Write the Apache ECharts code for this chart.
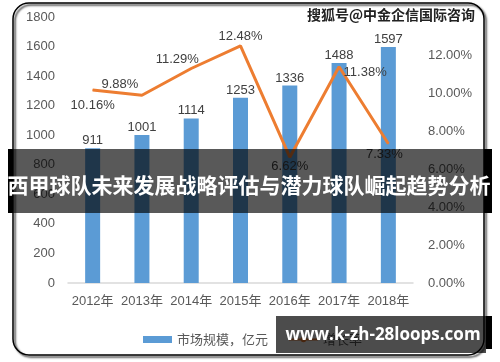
<!DOCTYPE html>
<html><head><meta charset="utf-8">
<script src="https://cdn.jsdelivr.net/npm/echarts@6/dist/echarts.min.js"></script>
<style>html,body{margin:0;padding:0;background:#fff}#c{width:500px;height:362px}</style>
</head><body><div id="c"></div>
<script>
var categories = ['2012年','2013年','2014年','2015年','2016年','2017年','2018年'];
var marketSize = [911, 1001, 1114, 1253, 1336, 1488, 1597];
var growthRate = [10.16, 9.88, 11.29, 12.48, 6.62, 11.38, 7.33];
var leftTicks = {min: 0, max: 1800, interval: 200};
var rightTicks = {min: 0, max: 14, interval: 2};
var title = '西甲球队未来发展战略评估与潜力球队崛起趋势分析';
var watermark = '搜狐号@中金企信国际咨询';
var footer = 'www.k-zh-28loops.com';

var labelPos = [
  {position: 'bottom', distance: 8},
  {position: 'top', offset: [-22, 0], distance: 4},
  {position: 'top', offset: [-14, 0], distance: 2},
  {position: 'top', distance: 2},
  {position: 'bottom', distance: 2},
  {position: 'right', offset: [2, 6], distance: 2},
  {position: 'bottom', offset: [-4, 2], distance: 2}
];
var lineData = growthRate.map(function (v, i) {
  var l = Object.assign({show: true}, labelPos[i]);
  return {value: v, label: l};
});

var chart = echarts.init(document.getElementById('c'));
var font = 'Liberation Sans, Arial, sans-serif';
chart.setOption({
  animation: false,
  textStyle: {fontFamily: font},
  grid: {left: 68, right: 87, top: 17, bottom: 79},
  legend: {
    left: 138, top: 328, itemWidth: 29, itemHeight: 7, itemGap: 20,
    textStyle: {color: '#595959', fontSize: 13, fontFamily: 'Noto Sans CJK SC'},
    data: [{name: '市场规模，亿元', icon: 'rect'}, {name: '增长率'}]
  },
  xAxis: {
    type: 'category', data: categories,
    axisLine: {lineStyle: {color: '#d9d9d9', width: 1.5}},
    axisTick: {show: false},
    axisLabel: {color: '#595959', fontSize: 13, margin: 12, interval: 0, fontFamily: 'Liberation Sans, Noto Sans CJK SC'}
  },
  yAxis: [{
    type: 'value', min: leftTicks.min, max: leftTicks.max, interval: leftTicks.interval,
    splitLine: {show: false}, axisLine: {show: false}, axisTick: {show: false},
    axisLabel: {color: '#595959', fontSize: 13, margin: 13, formatter: function (v) { return String(v); }}
  }, {
    type: 'value', min: rightTicks.min, max: rightTicks.max, interval: rightTicks.interval,
    splitLine: {show: false}, axisLine: {show: false}, axisTick: {show: false},
    axisLabel: {color: '#595959', fontSize: 13, margin: 15, showMaxLabel: false,
      formatter: function (v) { return v.toFixed(2) + '%'; }}
  }],
  series: [{
    name: '市场规模，亿元', type: 'bar', data: marketSize, barWidth: 15,
    itemStyle: {color: '#5b9bd5'},
    label: {show: true, position: 'top', color: '#404040', fontSize: 13, distance: 1}
  }, {
    name: '增长率', type: 'line', yAxisIndex: 1, data: lineData,
    symbol: 'circle', symbolSize: 1, showSymbol: true,
    lineStyle: {color: '#ed7d31', width: 3}, itemStyle: {color: '#ed7d31', borderWidth: 0},
    label: {color: '#404040', fontSize: 13, formatter: function (p) { return p.value.toFixed(2) + '%'; }}
  }],
  graphic: [
    {type: 'rect', z: -10, shape: {x: 13, y: 3, width: 471, height: 352, r: 16},
      style: {fill: 'none', stroke: '#000', lineWidth: 1.5, shadowColor: 'rgba(0,0,0,0.8)', shadowBlur: 2, shadowOffsetX: 2, shadowOffsetY: 2}},
    {type: 'text', z: 100, left: 306, top: 7,
      style: {text: watermark, fill: '#222', fontSize: 14, fontWeight: 'bold', fontFamily: 'Noto Sans CJK SC', stroke: '#fff', lineWidth: 2}},
    {type: 'rect', z: 100, shape: {x: 13, y: 149, width: 471, height: 64}, style: {fill: 'rgba(0,0,0,0.65)'}},
    {type: 'rect', z: 100, shape: {x: 8, y: 149, width: 5, height: 64}, style: {fill: '#000'}},
    {type: 'rect', z: 100, shape: {x: 484, y: 149, width: 8, height: 64}, style: {fill: '#000'}},
    {type: 'text', z: 101, x: 249, y: 185,
      style: {text: title, fill: '#fff', fontSize: 21, fontWeight: 'bold', fontFamily: 'Noto Sans CJK SC', align: 'center', verticalAlign: 'middle'}},
    {type: 'rect', z: 100, shape: {x: 276, y: 316, width: 210, height: 37}, style: {fill: 'rgba(0,0,0,0.7)'}},
    {type: 'rect', z: 100, shape: {x: 486, y: 316, width: 6, height: 33}, style: {fill: '#000'}},
    {type: 'text', z: 101, x: 383, y: 335,
      style: {text: footer, fill: '#fff', fontSize: 17, fontWeight: 'bold', fontFamily: 'Open Sans', align: 'center', verticalAlign: 'middle'}}
  ]
});
</script></body></html>
